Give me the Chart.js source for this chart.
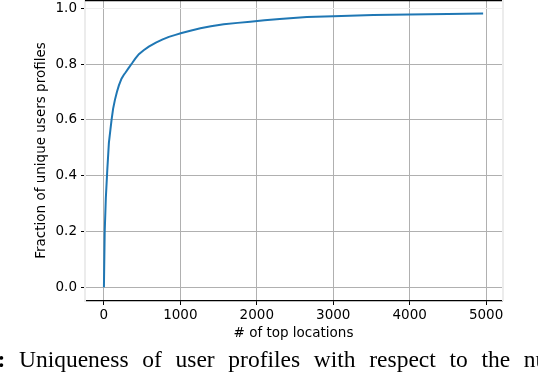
<!DOCTYPE html>
<html>
<head>
<meta charset="utf-8">
<script src="https://cdn.jsdelivr.net/npm/chart.js@4"></script>
<style>
  html, body { margin: 0; padding: 0; background: #fff; }
  #wrap { position: relative; width: 538px; height: 376px; overflow: hidden; }
  #c { position: absolute; left: 0; top: 0; }
  #caption {
    position: absolute; left: -66.5px; top: 346px; white-space: nowrap;
    font-family: "Liberation Serif", "Times New Roman", serif; font-size: 23.5px;
    color: #000; word-spacing: 7.8px;
  }
</style>
</head>
<body>
<div id="wrap">
  <canvas id="c" width="538" height="376"></canvas>
  <div id="caption"><b>Fig. 1:</b> Uniqueness of user profiles with respect to the number of top locations</div>
</div>
<script>
// Data
const topLocations = [0, 10, 25, 44, 65, 85, 100, 120, 144, 170, 196, 230, 261, 283, 320, 370, 410, 457, 520, 587, 680, 762, 850, 936, 1005, 1130, 1262, 1400, 1567, 1750, 1915, 2100, 2300, 2655, 3003, 3525, 3995, 4500, 4961];
const uniqueFraction = [0, 0.196, 0.32, 0.42, 0.518, 0.565, 0.60, 0.64, 0.672, 0.70, 0.724, 0.748, 0.762, 0.770, 0.785, 0.804, 0.820, 0.836, 0.850, 0.863, 0.877, 0.888, 0.898, 0.905, 0.911, 0.920, 0.929, 0.936, 0.943, 0.948, 0.952, 0.957, 0.962, 0.969, 0.972, 0.976, 0.978, 0.980, 0.982];
const xTickValues = [0, 1000, 2000, 3000, 4000, 5000];
const yTickValues = [0.0, 0.2, 0.4, 0.6, 0.8, 1.0];
const xAxisTitle = "# of top locations";
const yAxisTitle = "Fraction of unique users profiles";

const points = topLocations.map((x, i) => ({ x: x, y: uniqueFraction[i] }));

const frame = {
  id: 'frame',
  afterDraw(chart) {
    const { ctx, chartArea: a } = chart;
    ctx.save();
    ctx.strokeStyle = '#ececec';
    ctx.lineWidth = 2;
    ctx.beginPath();
    ctx.moveTo(a.right + 1, a.top); ctx.lineTo(a.right + 1, a.bottom);
    ctx.stroke();
    ctx.strokeStyle = '#000';
    ctx.lineWidth = 1.5;
    ctx.beginPath();
    ctx.moveTo(a.left, a.top + 0.5); ctx.lineTo(a.right, a.top + 0.5);
    ctx.stroke();
    ctx.restore();
  }
};

const tickFont = { family: "'DejaVu Sans', sans-serif", size: 13.5 };

new Chart(document.getElementById('c'), {
  type: 'line',
  data: {
    datasets: [{
      data: points,
      borderColor: '#1f77b4',
      borderWidth: 2,
      pointRadius: 0,
      tension: 0,
      fill: false
    }]
  },
  options: {
    responsive: false,
    animation: false,
    devicePixelRatio: 1,
    layout: { padding: { left: 0, right: 36, top: 0, bottom: 0 } },
    plugins: { legend: { display: false }, tooltip: { enabled: false } },
    scales: {
      x: {
        type: 'linear',
        min: -247.5,
        max: 5208,
        afterBuildTicks: s => { s.ticks = xTickValues.map(v => ({ value: v })); },
        afterFit: s => { s.height = 75; s.paddingLeft = 0; s.paddingRight = 0; },
        ticks: { font: tickFont, color: '#000', padding: 2, maxRotation: 0, autoSkip: false, callback: v => String(v) },
        grid: { color: '#b0b0b0', lineWidth: 1, tickLength: 4, tickColor: '#000', drawTicks: true },
        border: { color: '#000', width: 1.2 },
        title: { display: true, text: xAxisTitle, font: tickFont, color: '#000', padding: { top: 0, bottom: 34.5 } }
      },
      y: {
        type: 'linear',
        min: -0.049,
        max: 1.03,
        afterBuildTicks: s => { s.ticks = yTickValues.map(v => ({ value: v })); },
        afterFit: s => { s.width = 85; s.paddingTop = 0; s.paddingBottom = 0; },
        ticks: { font: tickFont, color: '#000', padding: 4, autoSkip: false, callback: v => v.toFixed(1) },
        grid: {
          color: ctx => (ctx.tick && ctx.tick.value === 1.0) ? '#eeeeee' : '#b0b0b0',
          lineWidth: 1, tickLength: 4, tickColor: '#000'
        },
        border: { color: '#ececec', width: 2 },
        title: { display: true, text: yAxisTitle, font: tickFont, color: '#000', padding: { top: 33.5, bottom: 0 } }
      }
    }
  },
  plugins: [frame]
});
</script>
</body>
</html>
